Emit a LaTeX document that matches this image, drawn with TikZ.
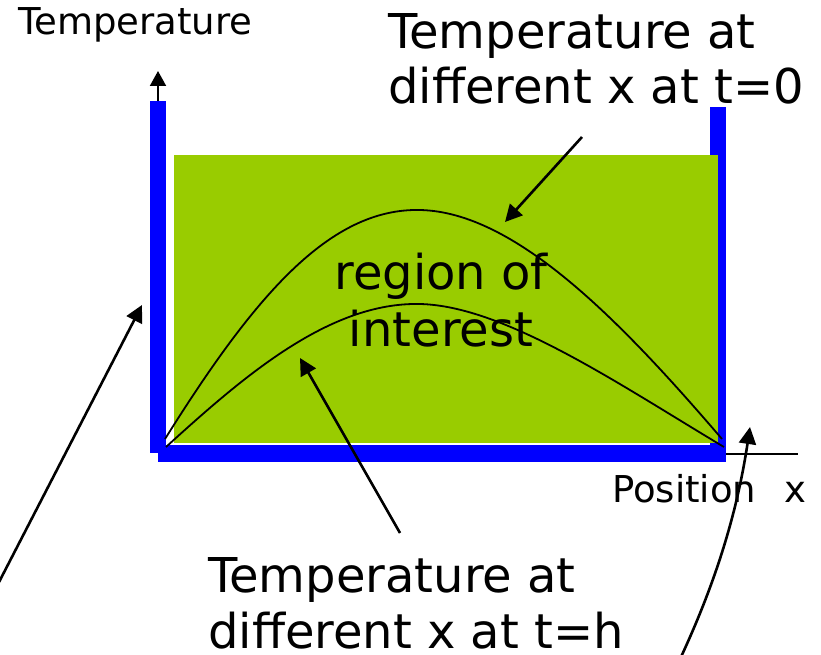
\documentclass[tikz,border=0pt]{standalone}
\usepackage{fontspec}
\setmainfont{DejaVu Sans}
\usetikzlibrary{arrows.meta}
\definecolor{bargreen}{RGB}{153,204,0}
\definecolor{barblue}{RGB}{0,0,255}
\begin{document}
\begin{tikzpicture}[x=1pt,y=-1pt,
  bigtxt/.style={font=\fontsize{48}{55}\selectfont, inner sep=0pt, align=left},
  smalltxt/.style={font=\fontsize{37}{42}\selectfont, inner sep=0pt},
  pointer/.style={line width=2.6pt, -{Triangle[length=17pt,width=17pt]}},
  curve/.style={line width=1.8pt}]
\useasboundingbox (0,0) rectangle (821,655);
% walls
\fill[barblue] (150,101) rectangle (166,453);
\fill[barblue] (710,107) rectangle (726,460);
\fill[barblue] (158,445) rectangle (726,462);
% region
\fill[bargreen] (174,155) rectangle (718,443);
% axes
\coordinate (yaxtop) at (158,71);
\coordinate (yaxbot) at (158,101);
\draw[line width=2pt, -{Triangle[length=15pt,width=16pt]}] (yaxbot) -- (yaxtop);
\coordinate (xaxl) at (726,454);
\coordinate (xaxr) at (798,454);
\draw[line width=2pt] (xaxl) -- (xaxr);
% curves
\coordinate (cl1) at (165,439);
\coordinate (cr1) at (722,439);
\coordinate (cl2) at (166,447);
\coordinate (cr2) at (724,447);
\draw[curve] (cl1) .. controls (255,295) and (330,208) .. (420,210) .. controls (515,212) and (620,320) .. (cr1);
\draw[curve] (cl2) .. controls (245,375) and (330,302) .. (420,304) .. controls (505,306) and (620,385) .. (cr2);
% texts
\node[smalltxt, anchor=base west] (ylabel) at (18,35) {Temperature};
\node[smalltxt, anchor=base west] (xlabel) at (612,502) {Position\hspace{0.75em}x};
\node[bigtxt, anchor=north west] (t0) at (388,13) {Temperature at\\different x at t=0};
\node[bigtxt, anchor=north west, font=\fontsize{48}{56}\selectfont] (th) at (208,557) {Temperature at\\different x at t=h};
\node[inner sep=0pt, align=center, font=\fontsize{48}{57}\selectfont, anchor=north] (roi) at (441,253) {region of\\interest};
% pointers
\coordinate (p1s) at (582,137);
\coordinate (p1e) at (505,222);
\draw[pointer] (p1s) -- (p1e);
\coordinate (p2s) at (400,533);
\coordinate (p2e) at (300,358);
\draw[pointer] (p2s) -- (p2e);
\coordinate (p3s) at (-2,584);
\coordinate (p3e) at (142,305);
\draw[pointer] (p3s) -- (p3e);
\coordinate (p4s) at (681,657);
\coordinate (p4e) at (750,427);
\draw[pointer] (p4s) .. controls (712,590) and (736,520) .. (p4e);
\end{tikzpicture}
\end{document}
